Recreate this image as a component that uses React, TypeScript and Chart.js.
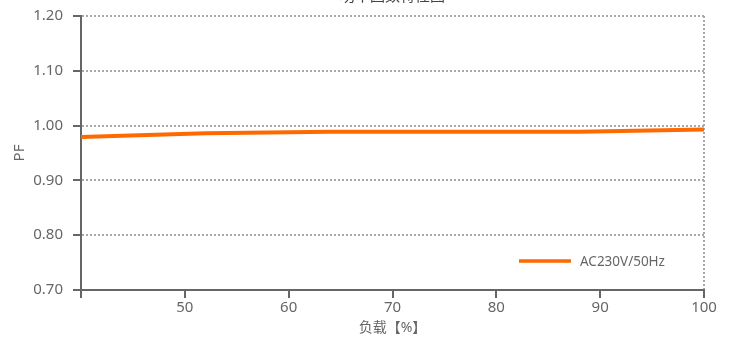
import React, { useEffect, useRef } from "react";
import { Chart, registerables } from "chart.js";

Chart.register(...registerables);

const chartTitle = "功率因数特性图";
const seriesLabel = "AC230V/50Hz";
const xTitle = "负载【%】";
const yTitle = "PF";
const loadPct = [40, 52, 64, 76, 88, 100];
const pfValues = [0.979, 0.986, 0.989, 0.989, 0.989, 0.993];
const xTickValues = [40, 50, 60, 70, 80, 90, 100];
const yTickValues = [0.7, 0.8, 0.9, 1.0, 1.1, 1.2];

const FONT = "'Noto Sans', 'Noto Sans CJK SC', sans-serif";
const ORANGE = "#ff6a00";
const AXIS = "#666666";
const GRID = "#a8a8a8";
const TEXT = "#666666";

const legendPlugin = {
  id: "insideLegend",
  afterDatasetsDraw(chart: any) {
    const { ctx, chartArea } = chart;
    const ds = chart.data.datasets[0];
    const y = chartArea.bottom - 29;
    const x0 = chartArea.right - 185;
    ctx.save();
    ctx.strokeStyle = ds.borderColor;
    ctx.lineWidth = 3.5;
    ctx.beginPath();
    ctx.moveTo(x0, y);
    ctx.lineTo(x0 + 52, y);
    ctx.stroke();
    ctx.fillStyle = TEXT;
    ctx.font = `13.5px ${FONT}`;
    ctx.textBaseline = "middle";
    ctx.textAlign = "left";
    ctx.fillText(ds.label, x0 + 61, y + 1);
    ctx.restore();
  },
};

export default function App() {
  const ref = useRef<HTMLCanvasElement | null>(null);

  useEffect(() => {
    if (!ref.current) return;
    const chart = new Chart(ref.current, {
      type: "line",
      data: {
        datasets: [
          {
            label: seriesLabel,
            data: loadPct.map((x, i) => ({ x, y: pfValues[i] })),
            borderColor: ORANGE,
            backgroundColor: ORANGE,
            borderWidth: 4,
            pointRadius: 0,
            tension: 0,
          },
        ],
      },
      options: {
        animation: false,
        responsive: false,
        maintainAspectRatio: false,
        layout: { padding: { top: 0, left: 0, right: 31, bottom: 0 } },
        plugins: {
          legend: { display: false },
          tooltip: { enabled: false },
          title: {
            display: true,
            text: chartTitle,
            fullSize: false,
            color: "#444",
            font: { family: FONT, size: 15, weight: "normal" },
            padding: { top: 0, bottom: 10 },
          },
        },
        scales: {
          x: {
            type: "linear",
            min: 40,
            max: 100,
            afterFit(s: any) {
              s.height = 48;
            },
            afterBuildTicks(s: any) {
              s.ticks = xTickValues.map((v) => ({ value: v }));
            },
            ticks: {
              color: TEXT,
              padding: 1,
              font: { family: FONT, size: 15 },
              maxRotation: 0,
              callback: (v: any) => (v === 40 ? "" : String(v)),
            },
            grid: {
              color: (c: any) => (c.tick && c.tick.value === 100 ? GRID : "rgba(0,0,0,0)"),
              lineWidth: 2,
              tickColor: AXIS,
              tickLength: 8,
              tickWidth: 2,
            },
            border: { display: true, color: AXIS, width: 2, dash: [2, 2] },
            title: {
              display: true,
              text: xTitle,
              color: TEXT,
              font: { family: FONT, size: 14 },
              padding: { top: 2, bottom: 2 },
            },
          },
          y: {
            type: "linear",
            min: 0.7,
            max: 1.2,
            afterFit(s: any) {
              s.width = 81;
            },
            afterBuildTicks(s: any) {
              s.ticks = yTickValues.map((v) => ({ value: v }));
            },
            ticks: {
              color: TEXT,
              padding: 10,
              font: { family: FONT, size: 15 },
              callback: (v: any) => Number(v).toFixed(2),
            },
            grid: {
              color: GRID,
              lineWidth: 2,
              tickColor: AXIS,
              tickLength: 8,
              tickWidth: 2,
            },
            border: { display: true, color: AXIS, width: 2, dash: [2, 2] },
            title: {
              display: true,
              text: yTitle,
              color: TEXT,
              font: { family: FONT, size: 15 },
              padding: { top: 11, bottom: 0 },
            },
          },
        },
      },
      plugins: [legendPlugin],
    });
    return () => chart.destroy();
  }, []);

  return (
    <div style={{ position: "absolute", left: 0, top: -12, width: 735, height: 350 }}>
      <canvas ref={ref} width={735} height={350} style={{ display: "block", width: 735, height: 350 }} />
    </div>
  );
}
